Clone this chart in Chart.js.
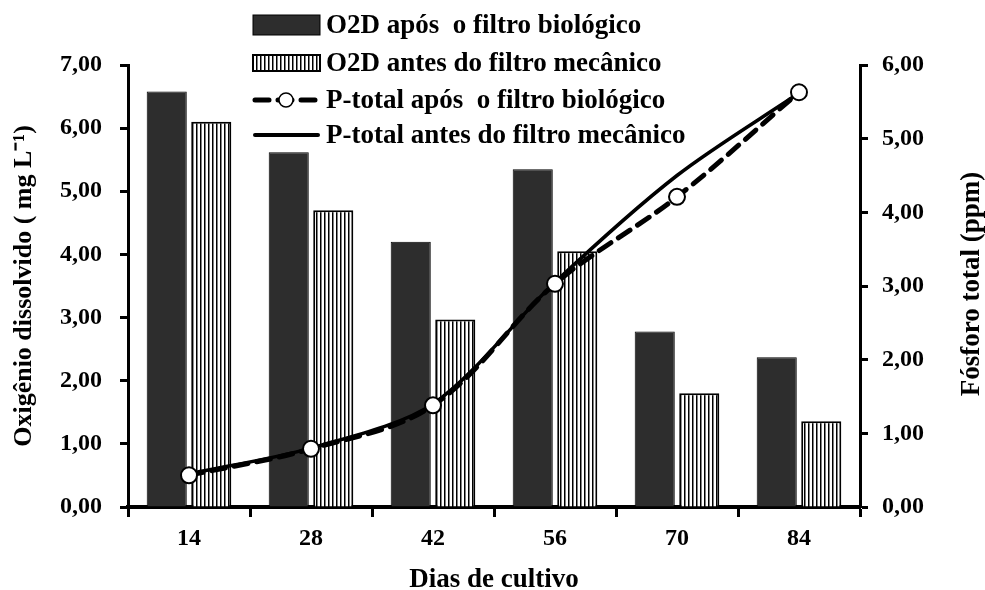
<!DOCTYPE html>
<html lang="pt">
<head>
<meta charset="utf-8">
<title>Oxigênio dissolvido e fósforo total</title>
<script src="https://cdn.jsdelivr.net/npm/chart.js@4.4.1/dist/chart.umd.min.js"></script>
<style>
  html, body { margin: 0; padding: 0; background: #fff; }
  #wrap { width: 985px; height: 590px; }
</style>
</head>
<body>
<div id="wrap"><canvas id="grafico" width="985" height="590"></canvas></div>
<script>
// dados
const dias = ['14', '28', '42', '56', '70', '84'];
const o2dApos = [6.58, 5.62, 4.20, 5.35, 2.78, 2.37];   // O2D após o filtro biológico (mg/L)
const o2dAntes = [6.10, 4.70, 2.97, 4.05, 1.80, 1.36];  // O2D antes do filtro mecânico (mg/L)
const pApos = [0.43, 0.79, 1.38, 3.03, 4.21, 5.63];     // P-total após o filtro biológico (ppm)
const pAntes = [0.45, 0.80, 1.40, 3.05, 4.50, 5.62];    // P-total antes do filtro mecânico (ppm)
const ticksO2 = ['0,00', '1,00', '2,00', '3,00', '4,00', '5,00', '6,00', '7,00'];
const ticksP = ['0,00', '1,00', '2,00', '3,00', '4,00', '5,00', '6,00'];

const fonte = "'Liberation Serif', 'Times New Roman', serif";
Chart.defaults.font.family = fonte;
Chart.defaults.font.weight = 'bold';
Chart.defaults.color = '#000';

// padrão listrado vertical para as barras "antes"
function criarListras() {
    const c = document.createElement('canvas');
    c.width = 4;
    c.height = 4;
    const g = c.getContext('2d');
    g.fillStyle = '#fff';
    g.fillRect(0, 0, 4, 4);
    g.fillStyle = '#000';
    g.fillRect(0, 0, 1.5, 4);
    return document.getElementById('grafico').getContext('2d').createPattern(c, 'repeat');
}
const listras = criarListras();

// legenda desenhada à mão (fica por cima da área do gráfico, como no original)
const legendaManual = {
    id: 'legendaManual',
    afterDraw(chart) {
        const ctx = chart.ctx;
        const x0 = 253, x1 = 320, tx = 326;
        const linhas = [25, 63, 100, 135];
        ctx.save();
        chart.data.datasets.forEach(function(ds, i) {
            const y = linhas[i];
            ctx.setLineDash([]);
            if (i === 0) {
                ctx.fillStyle = '#2d2d2d';
                ctx.fillRect(x0, y - 10, x1 - x0, 20);
                ctx.strokeStyle = '#000';
                ctx.lineWidth = 1;
                ctx.strokeRect(x0, y - 10, x1 - x0, 20);
            } else if (i === 1) {
                ctx.fillStyle = listras;
                ctx.fillRect(x0, y - 8, x1 - x0, 16);
                ctx.strokeStyle = '#000';
                ctx.lineWidth = 2;
                ctx.strokeRect(x0, y - 8, x1 - x0, 16);
            } else if (i === 2) {
                ctx.strokeStyle = '#000';
                ctx.lineWidth = 5;
                ctx.lineCap = 'round';
                ctx.setLineDash([14, 9]);
                ctx.beginPath();
                ctx.moveTo(x0 + 2, y);
                ctx.lineTo(x1 - 2, y);
                ctx.stroke();
                ctx.setLineDash([]);
                ctx.beginPath();
                ctx.arc(286, y, 7, 0, Math.PI * 2);
                ctx.fillStyle = '#fff';
                ctx.fill();
                ctx.lineWidth = 1.5;
                ctx.stroke();
            } else {
                ctx.strokeStyle = '#000';
                ctx.lineWidth = 4;
                ctx.lineCap = 'round';
                ctx.beginPath();
                ctx.moveTo(x0 + 2, y);
                ctx.lineTo(x1 - 2, y);
                ctx.stroke();
            }
            ctx.fillStyle = '#000';
            ctx.font = 'bold 27px ' + fonte;
            ctx.textBaseline = 'middle';
            ctx.textAlign = 'left';
            ctx.fillText(ds.label, tx, y + 1);
        });

        // título do eixo direito, lido de baixo para cima
        ctx.translate(972, 284);
        ctx.rotate(-Math.PI / 2);
        ctx.font = 'bold 27px ' + fonte;
        ctx.textAlign = 'center';
        ctx.textBaseline = 'middle';
        ctx.fillText('Fósforo total (ppm)', 0, 0);
        ctx.restore();
    }
};

new Chart(document.getElementById('grafico'), {
    type: 'bar',
    data: {
        labels: dias,
        datasets: [
            {
                label: 'O2D após  o filtro biológico',
                data: o2dApos,
                backgroundColor: '#2d2d2d',
                borderColor: '#000',
                borderWidth: 1,
                yAxisID: 'y',
                order: 1,
                categoryPercentage: 0.73,
                barPercentage: 0.9
            },
            {
                label: 'O2D antes do filtro mecânico',
                data: o2dAntes,
                backgroundColor: listras,
                borderColor: '#000',
                borderWidth: 2,
                yAxisID: 'y',
                order: 1,
                categoryPercentage: 0.73,
                barPercentage: 0.9
            },
            {
                type: 'line',
                label: 'P-total após  o filtro biológico',
                data: pApos,
                borderColor: '#000',
                borderWidth: 5,
                borderDash: [14, 9],
                borderCapStyle: 'round',
                tension: 0.35,
                pointRadius: 8,
                pointBackgroundColor: '#fff',
                pointBorderColor: '#000',
                pointBorderWidth: 2,
                yAxisID: 'y1',
                order: 0
            },
            {
                type: 'line',
                label: 'P-total antes do filtro mecânico',
                data: pAntes,
                borderColor: '#000',
                borderWidth: 3.5,
                tension: 0.3,
                pointRadius: 0,
                yAxisID: 'y1',
                order: 0
            }
        ]
    },
    options: {
        responsive: false,
        animation: false,
        layout: { padding: { top: 65, left: 0, right: 0, bottom: 0 } },
        plugins: {
            legend: { display: false },
            tooltip: { enabled: false }
        },
        scales: {
            x: {
                grid: { display: true, drawOnChartArea: false, drawTicks: true, tickLength: 10, tickWidth: 3, tickColor: '#000', offset: true },
                border: { display: true, color: '#000', width: 4 },
                ticks: { font: { size: 24, weight: 'bold' }, padding: 7 },
                title: { display: true, text: 'Dias de cultivo', font: { size: 27, weight: 'bold', lineHeight: 0.75 }, padding: { top: 0, bottom: 0 } },
                afterFit: function(scale) { scale.height = 83; }
            },
            y: {
                position: 'left',
                min: 0,
                max: 7,
                grid: { display: true, drawOnChartArea: false, drawTicks: true, tickLength: 8, tickWidth: 3, tickColor: '#000' },
                border: { display: true, color: '#000', width: 3 },
                ticks: {
                    stepSize: 1,
                    padding: 18,
                    font: { size: 24, weight: 'bold' },
                    callback: function(value, index) { return ticksO2[index]; }
                },
                title: { display: true, text: 'Oxigênio dissolvido ( mg L⁻¹)', font: { size: 26, weight: 'bold' }, padding: { top: 9, bottom: 0 } },
                afterFit: function(scale) { scale.width = 128; }
            },
            y1: {
                position: 'right',
                min: 0,
                max: 6,
                grid: { display: true, drawOnChartArea: false, drawTicks: true, tickLength: 8, tickWidth: 3, tickColor: '#000' },
                border: { display: true, color: '#000', width: 3 },
                ticks: {
                    stepSize: 1,
                    padding: 14,
                    font: { size: 24, weight: 'bold' },
                    callback: function(value, index) { return ticksP[index]; }
                },
                title: { display: false },
                afterFit: function(scale) { scale.width = 125; }
            }
        }
    },
    plugins: [legendaManual]
});
</script>
</body>
</html>
